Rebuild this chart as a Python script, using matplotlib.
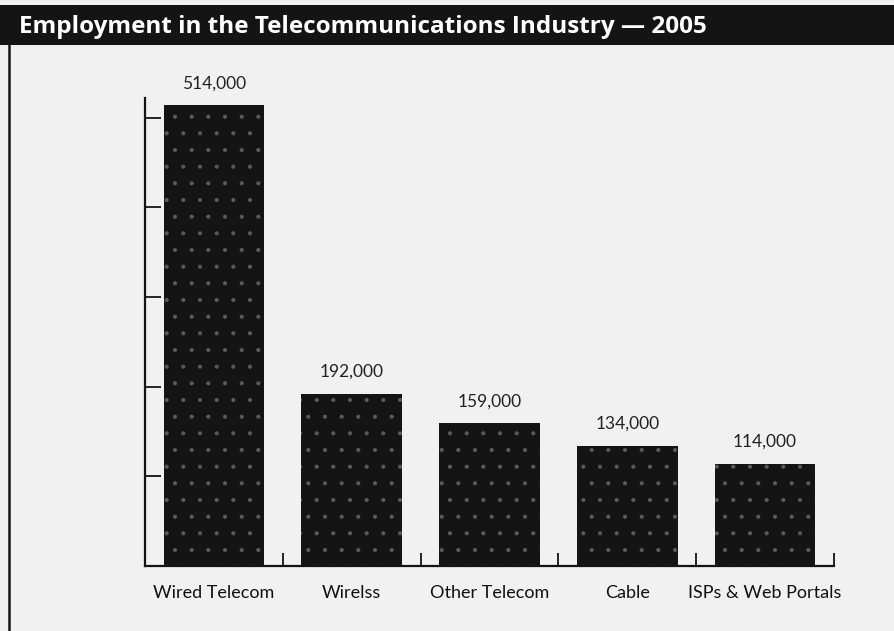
import matplotlib
matplotlib.use("Agg")
import matplotlib.pyplot as plt
from matplotlib.patches import Rectangle
from matplotlib.lines import Line2D
from matplotlib.ticker import FixedLocator, NullFormatter

# Employment by segment, 2005
categories = ["Wired Telecom", "Wirelss", "Other Telecom", "Cable", "ISPs & Web Portals"]
employment = [514000, 192000, 159000, 134000, 114000]
value_labels = ["514,000", "192,000", "159,000", "134,000", "114,000"]
y_ticks = [100000, 200000, 300000, 400000, 500000]
title = "Employment in the Telecommunications Industry \u2014 2005"

W, H = 894, 631
BG = "#f1f1f1"
INK = "#141414"

plt.rcParams["hatch.linewidth"] = 0.5

fig = plt.figure(figsize=(W / 100, H / 100), dpi=100, facecolor=BG)

# Title banner
fig.patches.append(Rectangle((0, 1 - 45 / H), 1, 40 / H, transform=fig.transFigure,
                             facecolor=INK, edgecolor="none", zorder=0))
fig.text(19 / W, 1 - 27 / H, title, color="white", fontsize=17.5, fontweight="bold",
         family=["Open Sans", "DejaVu Sans"], va="center", ha="left")

# Left frame rule
fig.add_artist(Line2D([8.5 / W, 8.5 / W], [0, 1 - 45 / H], transform=fig.transFigure,
                      color=INK, linewidth=1.8))

ax = fig.add_axes([145 / W, (H - 566) / H, (834 - 145) / W, (566 - 98) / H])
ax.set_facecolor("none")

x = list(range(len(categories)))
# Speckled dark bars: the hatch takes the (invisible, zero-width) edge colour
ax.bar(x, employment, width=0.73, color=INK, edgecolor="#5c5c5c", linewidth=0, hatch=".")

for xi, v, lab in zip(x, employment, value_labels):
    ax.annotate(lab, (xi, v), xytext=(0, 10), textcoords="offset points",
                ha="center", va="bottom", fontsize=12.5, color="#222222",
                family=["Lato", "DejaVu Sans"])

ax.set_xlim(-0.5, len(categories) - 0.5)
ax.set_ylim(0, 522000)

for s in ("top", "right"):
    ax.spines[s].set_visible(False)
for s in ("left", "bottom"):
    ax.spines[s].set_color(INK)
    ax.spines[s].set_linewidth(1.6)

ax.yaxis.set_major_locator(FixedLocator(y_ticks))
ax.yaxis.set_major_formatter(NullFormatter())
ax.tick_params(axis="y", direction="in", length=11.5, width=1.3, color=INK)

ax.set_xticks(x)
ax.set_xticklabels(categories, fontsize=13, family=["Lato", "DejaVu Sans"], color="#111111")
ax.tick_params(axis="x", which="major", length=0, pad=14)
ax.xaxis.set_minor_locator(FixedLocator([i + 0.5 for i in x]))
ax.tick_params(axis="x", which="minor", direction="in", length=9.5, width=1.3, color=INK)

fig.savefig("out.png", dpi=100, facecolor=BG)
